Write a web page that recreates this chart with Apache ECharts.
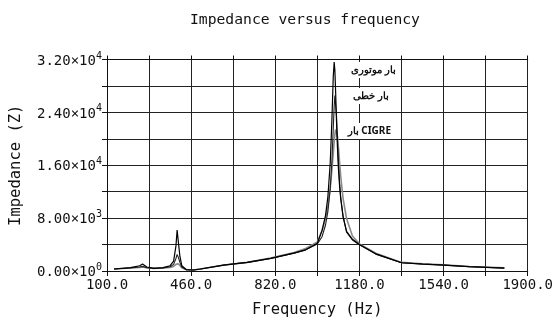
<!DOCTYPE html>
<html><head><meta charset="utf-8">
<script src="https://cdn.jsdelivr.net/npm/echarts@6/dist/echarts.min.js"></script>
<style>html,body{margin:0;padding:0;background:#fff}#c{width:556px;height:323px}</style>
</head><body><div id="c"></div>
<script>
const freq = [130,200,240,252,270,300,340,370,385,395,400,405,412,420,440,470,500,600,700,800,900,950,1000,1020,1035,1045,1055,1062,1068,1072,1075,1078,1082,1086,1090,1095,1100,1110,1125,1150,1180,1250,1360,1450,1540,1650,1800];
const motorLoad = [300,500,800,1050,600,400,500,800,1500,3800,6200,4500,2200,800,200,150,300,900,1300,1900,2700,3200,4200,6110,8420,11230,16300,22600,29400,31600,30300,27300,22600,18700,15600,12900,10900,8240,6000,4800,4000,2600,1250,1050,900,650,450];
const linearLoad = [300,450,600,700,500,400,450,650,1000,1900,2500,2100,1300,600,200,150,300,900,1300,1900,2700,3200,4100,5180,6960,8970,12430,16530,21600,25000,26550,26400,23400,19800,16530,13440,11150,8270,5880,4700,3950,2550,1250,1050,900,650,450];
const cigreLoad = [300,450,550,600,500,400,450,550,700,1000,1200,1100,800,500,200,150,300,900,1300,1950,2800,3400,4400,6130,7930,9770,12500,15200,17800,19600,20700,21400,21400,20400,18800,16500,14300,11000,7930,5310,4100,2700,1300,1100,920,670,470];
const xLabels = [100,460,820,1180,1540,1900];
const yLabels = {0:'0.00×10|0', 8000:'8.00×10|3', 16000:'1.60×10|4', 24000:'2.40×10|4', 32000:'3.20×10|4'};
const seriesNames = ['بار موتوری','بار خطی','بار CIGRE'];

const pair = (vals) => freq.map((f,i)=>[f, vals[i]]);
const mono = 'DejaVu Sans Mono';
const labelFont = 'bold 10px "Noto Sans", sans-serif';
const chart = echarts.init(document.getElementById('c'));
chart.setOption({
  animation:false,
  backgroundColor:'#fff',
  title:{text:'Impedance versus frequency', left:185, top:8, textStyle:{fontFamily:mono, fontWeight:'normal', fontSize:14.7, color:'#111'}},
  grid:{left:105, right:25, top:59.5, bottom:48},
  xAxis:[{
    type:'value', min:100, max:1900, interval:180,
    name:'Frequency (Hz)', nameLocation:'middle', nameGap:31,
    nameTextStyle:{fontFamily:mono, fontSize:15.5, color:'#111'},
    axisLine:{lineStyle:{color:'#111', width:1}},
    axisTick:{show:true, length:5, lineStyle:{color:'#111'}},
    axisLabel:{fontFamily:mono, fontSize:14, color:'#111', margin:7,
      formatter:v=> xLabels.indexOf(Math.round(v))>=0 ? v.toFixed(1) : ''},
    splitLine:{show:true, lineStyle:{color:'#222', width:1}}
  },{
    type:'value', position:'top', min:100, max:1900, interval:180,
    axisLine:{show:true, lineStyle:{color:'#111'}},
    axisTick:{show:true, length:4, lineStyle:{color:'#111'}},
    axisLabel:{show:false}, splitLine:{show:false}
  }],
  yAxis:{
    type:'value', min:0, max:32000, interval:4000,
    name:'Impedance (Z)', nameLocation:'middle', nameGap:83, nameRotate:90,
    nameTextStyle:{fontFamily:mono, fontSize:15.5, color:'#111'},
    axisLine:{show:true, lineStyle:{color:'#111'}},
    axisTick:{show:true, length:5, lineStyle:{color:'#111'}},
    axisLabel:{margin:5, color:'#111',
      formatter:v=>{const s=yLabels[Math.round(v)]; if(!s) return ''; const p=s.split('|'); return '{b|'+p[0]+'}{s|'+p[1]+'}';},
      rich:{b:{fontFamily:mono, fontSize:14, color:'#111', lineHeight:17, verticalAlign:'bottom'},
            s:{fontFamily:mono, fontSize:10, color:'#111', lineHeight:17, verticalAlign:'top', padding:[0,0,7,0]}}},
    splitLine:{show:true, lineStyle:{color:'#222', width:1}}
  },
  series:[
    {name:seriesNames[2], type:'line', data:pair(cigreLoad), showSymbol:false, lineStyle:{color:'#8a8a8a', width:1.6}, z:2},
    {name:seriesNames[1], type:'line', data:pair(linearLoad), showSymbol:false, lineStyle:{color:'#222', width:1.1}, z:3},
    {name:seriesNames[0], type:'line', data:pair(motorLoad), showSymbol:false, lineStyle:{color:'#000', width:1.2}, z:4}
  ],
  graphic:[
    {type:'text', z:100, right:158, top:62, style:{text:seriesNames[0], font:labelFont, fill:'#111', backgroundColor:'#fff', padding:[3,2]}},
    {type:'text', right:165, top:88, z:100, style:{text:seriesNames[1], font:labelFont, fill:'#111', backgroundColor:'#fff', padding:[3,2]}},
    {type:'text', right:163, top:123, z:100, style:{text:seriesNames[2], font:labelFont, fill:'#111', backgroundColor:'#fff', padding:[3,2]}}
  ]
});
</script></body></html>
